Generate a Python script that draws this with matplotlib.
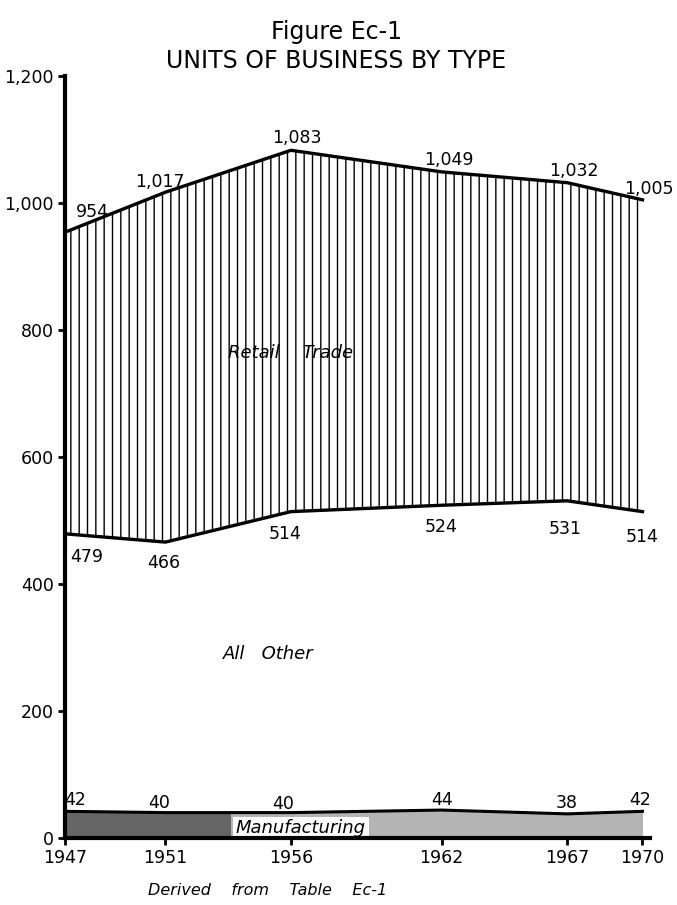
import matplotlib
matplotlib.use("Agg")
import matplotlib.pyplot as plt
from matplotlib.patches import Rectangle

years = [1947, 1951, 1956, 1962, 1967, 1970]
year_labels = ["1947", "1951", "1956", "1962", "1967", "1970"]
retail_top = [954, 1017, 1083, 1049, 1032, 1005]
all_other_top = [479, 466, 514, 524, 531, 514]
manufacturing = [42, 40, 40, 44, 38, 42]
y_ticks = [0, 200, 400, 600, 800, 1000, 1200]
y_tick_labels = ["0", "200", "400", "600", "800", "1,000", "1,200"]

# label offsets in pixels, hand tuned to the reference
top_off = [(27, 20), (-6, 10), (6, 12), (7, 12), (7, 12), (6, 11)]
mid_off = [(22, -23), (-2, -21), (-6, -22), (0, -22), (-2, -28), (0, -25)]
man_off = [(10, 11), (-6, 10), (-8, 9), (0, 10), (0, 11), (-2, 11)]


def fmt(v):
    return "{:,}".format(v)


plt.rcParams["hatch.linewidth"] = 1.0
fig = plt.figure(figsize=(6.77, 9.05), dpi=100)
ax = fig.add_axes([65 / 677, 67 / 905, (650 - 65) / 677, (838 - 76) / 905])

# retail trade band, vertical hatching
ax.fill_between(years, all_other_top, retail_top, facecolor="white",
                edgecolor="black", hatch="||", linewidth=0)
ax.plot(years, retail_top, color="black", lw=2.4, solid_joinstyle="round")
ax.plot(years, all_other_top, color="black", lw=2.4, solid_joinstyle="round")

# manufacturing band: dark on the left, lighter on the right
dark = ax.fill_between(years, 0, manufacturing, color="#666666", linewidth=0)
light = ax.fill_between(years, 0, manufacturing, color="#b4b4b4", linewidth=0)
dark.set_clip_path(Rectangle((1947, 0), 6.6, 100, transform=ax.transData))
light.set_clip_path(Rectangle((1953.6, 0), 20, 100, transform=ax.transData))
ax.plot(years, manufacturing, color="black", lw=2.2)

for x, v, o in zip(years, retail_top, top_off):
    ax.annotate(fmt(v), (x, v), xytext=o, textcoords="offset pixels",
                ha="center", va="center", fontsize=12.5)
for x, v, o in zip(years, all_other_top, mid_off):
    ax.annotate(fmt(v), (x, v), xytext=o, textcoords="offset pixels",
                ha="center", va="center", fontsize=12.5)
for x, v, o in zip(years, manufacturing, man_off):
    ax.annotate(fmt(v), (x, v), xytext=o, textcoords="offset pixels",
                ha="center", va="center", fontsize=12.5)

ax.text(1956.0, 763, "Retail    Trade", style="italic", fontsize=13,
        ha="center", va="center")
ax.text(1955.1, 290, "All   Other", style="italic", fontsize=13,
        ha="center", va="center")
ax.text(1956.4, 15, "Manufacturing", style="italic", fontsize=13,
        ha="center", va="center", zorder=2,
        bbox=dict(boxstyle="square,pad=0.15", fc="white", ec="none"))

ax.set_xlim(1947, 1970.3)
ax.set_ylim(0, 1200)
ax.set_xticks(years)
ax.set_xticklabels(year_labels, fontsize=12.5)
ax.set_yticks(y_ticks)
ax.set_yticklabels(y_tick_labels, fontsize=12.5)
ax.tick_params(axis="both", direction="out", length=5, width=2, pad=3)
for s in ["top", "right"]:
    ax.spines[s].set_visible(False)
ax.spines["left"].set_linewidth(3)
ax.spines["bottom"].set_linewidth(3)

fig.text(0.497, 0.965, "Figure Ec-1", ha="center", va="center",
         fontsize=17, family=["Liberation Sans Narrow", "DejaVu Sans"])
fig.text(0.497, 0.933, "UNITS OF BUSINESS BY TYPE", ha="center", va="center",
         fontsize=17, family=["Liberation Sans Narrow", "DejaVu Sans"])
fig.text(268 / 677, 1 - 890 / 905, "Derived    from    Table    Ec-1",
         style="italic", fontsize=11.5, ha="center", va="center")

fig.savefig("out.png", dpi=100)
